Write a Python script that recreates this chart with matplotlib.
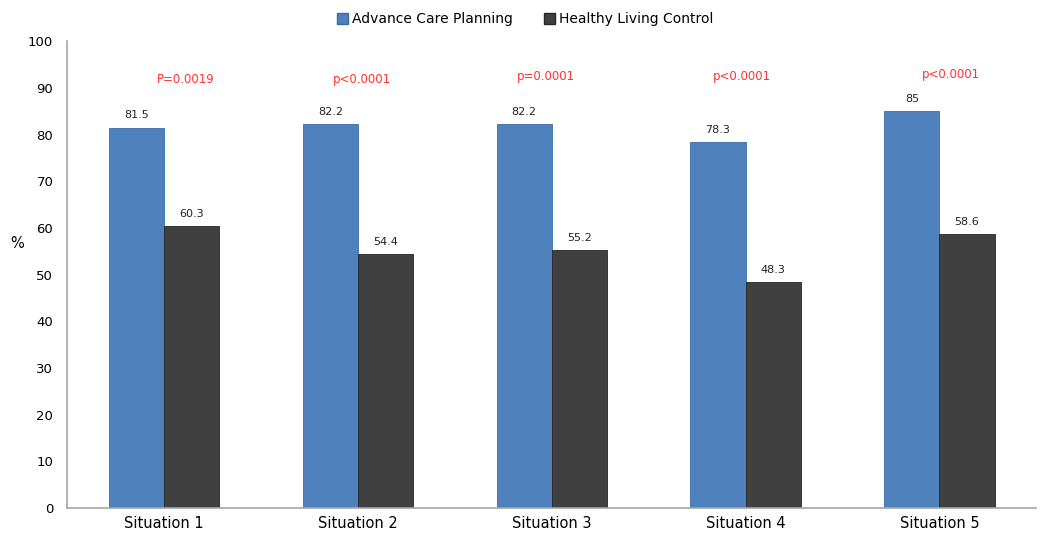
import numpy as np
import matplotlib.pyplot as plt
from matplotlib.patches import Patch

# Data
situations = ['Situation 1', 'Situation 2', 'Situation 3', 'Situation 4', 'Situation 5']
acp = [81.5, 82.2, 82.2, 78.3, 85]
hlc = [60.3, 54.4, 55.2, 48.3, 58.6]
p_labels = ['P=0.0019', 'p<0.0001', 'p=0.0001', 'p<0.0001', 'p<0.0001']
p_heights = [91.7, 91.7, 92.5, 92.5, 92.9]
p_offsets = [0.11, 0.02, -0.03, -0.02, 0.06]

blue = '#4f81bd'
dark = '#404040'

fig = plt.figure(figsize=(10.5, 5.42), dpi=100)
ax = fig.add_axes([0.064, 0.063, 0.923, 0.861])

x = np.arange(len(situations))
w = 0.285
ax.bar(x - w / 2, acp, w, color=blue, edgecolor='#3a6ea5', linewidth=0.6)
ax.bar(x + w / 2, hlc, w, color=dark, edgecolor='#262626', linewidth=0.6)

# Value labels
for i in range(len(situations)):
    ax.text(x[i] - w / 2, acp[i] + 1.6, f'{acp[i]:g}', ha='center', va='bottom',
            fontsize=8, color='#222222')
    ax.text(x[i] + w / 2, hlc[i] + 1.6, f'{hlc[i]:g}', ha='center', va='bottom',
            fontsize=8, color='#222222')
    ax.text(x[i] + p_offsets[i], p_heights[i], p_labels[i], ha='center',
            va='center', fontsize=8.5, color='#ff3333')

ax.set_xlim(-0.5, len(situations) - 0.5)
ax.set_ylim(0, 100)
ax.set_yticks(range(0, 101, 10))
ax.set_xticks(x)
ax.set_xticklabels(situations, fontsize=10.5)
ax.tick_params(axis='y', length=0, labelsize=9.5, pad=10)
ax.tick_params(axis='x', length=0, pad=6)
for s in ['top', 'right']:
    ax.spines[s].set_visible(False)
for s in ['left', 'bottom']:
    ax.spines[s].set_color('#a6a6a6')
    ax.spines[s].set_linewidth(1.2)

ax.set_ylabel('%', rotation=0, fontsize=10.5)
ax.yaxis.set_label_coords(-0.052, 0.55)

handles = [Patch(facecolor=blue, edgecolor='#3a6ea5'),
           Patch(facecolor=dark, edgecolor='#262626')]
fig.legend(handles, ['Advance Care Planning', 'Healthy Living Control'],
           loc='upper center', bbox_to_anchor=(0.5, 1.0), ncol=2, frameon=False,
           fontsize=10, handlelength=0.8, handleheight=0.8, handletextpad=0.3,
           columnspacing=2.2)

fig.savefig('out.png', dpi=100)
